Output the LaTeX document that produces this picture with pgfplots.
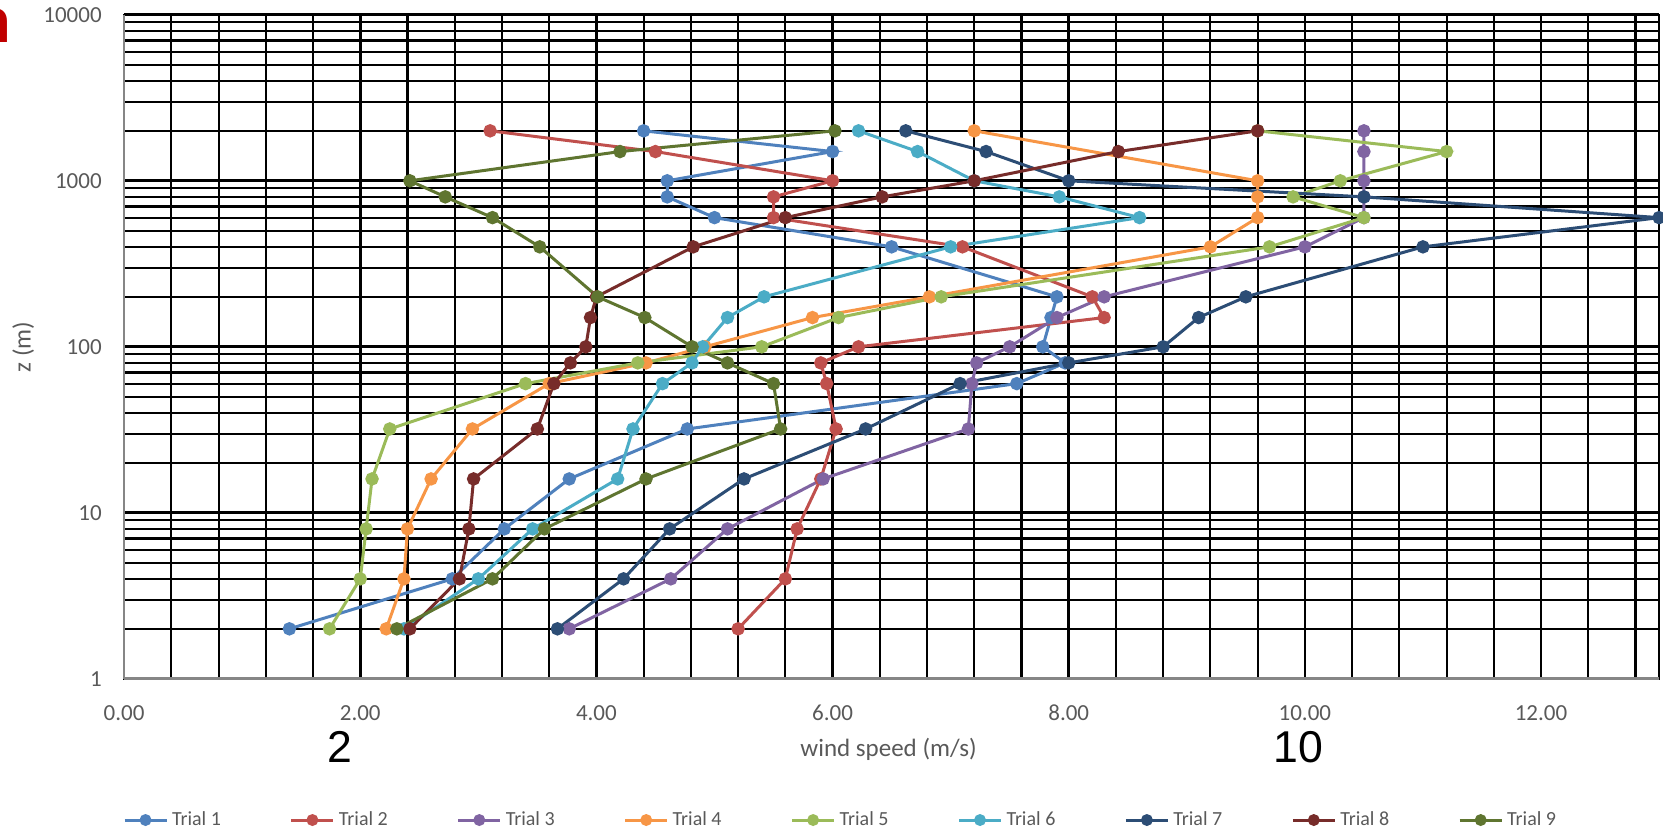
\documentclass[border=0pt]{standalone}
\usepackage{pgfplots}
\pgfplotsset{compat=1.18}
\usepackage{fontspec}
\setmainfont{Carlito}
\newfontfamily\arialfont{Liberation Sans}
\definecolor{cA}{HTML}{4F81BD}
\definecolor{cB}{HTML}{C0504D}
\definecolor{cC}{HTML}{8064A2}
\definecolor{cD}{HTML}{F79646}
\definecolor{cE}{HTML}{9BBB59}
\definecolor{cF}{HTML}{4BACC6}
\definecolor{cG}{HTML}{2C4D75}
\definecolor{cH}{HTML}{772C2A}
\definecolor{cI}{HTML}{5F7530}
\definecolor{axgray}{HTML}{868686}
\definecolor{txtgray}{HTML}{595959}
\definecolor{darkred}{HTML}{C00000}
\begin{document}
\begin{tikzpicture}
\useasboundingbox (-62.05pt,-77.1pt) rectangle (769.45pt,339.4pt);
\begin{axis}[
  at={(0,0)}, anchor=south west,
  scale only axis, width=767.5pt, height=332pt,
  xmin=0, xmax=13, ymode=log, ymin=1, ymax=10000,
  xtick={0,2,4,6,8,10,12},
  xticklabels={0.00,2.00,4.00,6.00,8.00,10.00,12.00},
  minor xtick={0.4,0.8,1.2,1.6,2.4,2.8,3.2,3.6,4.4,4.8,5.2,5.6,6.4,6.8,7.2,7.6,8.4,8.8,9.2,9.6,10.4,10.8,11.2,11.6,12.4,12.8},
  ytick={1,10,100,1000,10000},
  yticklabels={1,10,100,1000,10000},
  grid=both,
  major grid style={black, line width=1.3pt},
  minor grid style={black, line width=1.05pt},
  tick style={draw=none},
  axis line style={black, line width=1.1pt},
  ticklabel style={font=\fontsize{11.5}{13}\selectfont, text=txtgray},
  xticklabel style={anchor=center, yshift=-17pt, inner sep=0pt},
  yticklabel style={anchor=east, xshift=-11pt, inner sep=0pt},
  xlabel={wind speed (m/s)},
  xlabel style={at={(axis description cs:0.498,-0.1069)}, anchor=center, font=\fontsize{12.5}{14}\selectfont, text=txtgray},
  ylabel={z (m)},
  ylabel style={at={(axis description cs:-0.0658,0.5)}, anchor=center, font=\fontsize{12.5}{14}\selectfont, text=txtgray},
  clip=false,
  every axis plot/.append style={line width=1.5pt, mark=*, mark size=2.6pt, mark options={solid}},
  legend columns=9,
  legend cell align=left,
  legend image code/.code={\draw[mark repeat=2,mark phase=2,#1,mark size=2.2pt] plot coordinates {(0pt,0pt) (10.5pt,0pt) (21pt,0pt)};},
  legend style={at={(0.4674,-0.2127)}, anchor=center, draw=none, fill=none,
    font=\fontsize{10}{12}\selectfont, text=txtgray,
    /tikz/every even column/.append style={column sep=32.5pt}},
]
\draw[axgray, line width=1.3pt] (rel axis cs:0,0) -- (rel axis cs:0,1);
\draw[axgray, line width=1.3pt] (rel axis cs:0,0) -- (rel axis cs:1,0);

\addplot[cA] coordinates {(4.4,2000)(6.0,1500)(4.6,1000)(4.6,800)(5.0,600)(6.5,400)(7.9,200)(7.85,150)(7.78,100)(7.97,80)(7.56,60)(4.77,32)(3.77,16)(3.22,8)(2.78,4)(1.40,2)};
\addlegendentry{Trial 1}
\addplot[cB] coordinates {(3.1,2000)(4.5,1500)(6.0,1000)(5.5,800)(5.5,600)(7.1,400)(8.2,200)(8.3,150)(6.22,100)(5.9,80)(5.95,60)(6.03,32)(5.9,16)(5.7,8)(5.6,4)(5.2,2)};
\addlegendentry{Trial 2}
\addplot[cC] coordinates {(10.5,2000)(10.5,1500)(10.5,1000)(10.5,800)(10.5,600)(10.0,400)(8.3,200)(7.9,150)(7.5,100)(7.22,80)(7.18,60)(7.15,32)(5.92,16)(5.11,8)(4.63,4)(3.77,2)};
\addlegendentry{Trial 3}
\addplot[cD] coordinates {(7.2,2000)(9.6,1000)(9.6,800)(9.6,600)(9.2,400)(6.82,200)(5.83,150)(4.92,100)(4.42,80)(3.6,60)(2.95,32)(2.6,16)(2.4,8)(2.37,4)(2.22,2)};
\addlegendentry{Trial 4}
\addplot[cE] coordinates {(9.6,2000)(11.2,1500)(10.3,1000)(9.9,800)(10.5,600)(9.7,400)(6.92,200)(6.05,150)(5.4,100)(4.35,80)(3.4,60)(2.25,32)(2.1,16)(2.05,8)(2.0,4)(1.74,2)};
\addlegendentry{Trial 5}
\addplot[cF] coordinates {(6.22,2000)(6.72,1500)(7.2,1000)(7.92,800)(8.6,600)(7.0,400)(5.42,200)(5.11,150)(4.9,100)(4.81,80)(4.56,60)(4.31,32)(4.18,16)(3.46,8)(3.0,4)(2.37,2)};
\addlegendentry{Trial 6}
\addplot[cG] coordinates {(6.62,2000)(7.3,1500)(8.0,1000)(10.5,800)(13.0,600)(11.0,400)(9.5,200)(9.1,150)(8.8,100)(8.0,80)(7.08,60)(6.28,32)(5.25,16)(4.62,8)(4.23,4)(3.67,2)};
\addlegendentry{Trial 7}
\addplot[cH] coordinates {(9.6,2000)(8.42,1500)(7.2,1000)(6.42,800)(5.6,600)(4.82,400)(4.0,200)(3.95,150)(3.91,100)(3.78,80)(3.64,60)(3.5,32)(2.96,16)(2.92,8)(2.84,4)(2.42,2)};
\addlegendentry{Trial 8}
\addplot[cI] coordinates {(6.02,2000)(4.2,1500)(2.42,1000)(2.72,800)(3.12,600)(3.52,400)(4.01,200)(4.41,150)(4.81,100)(5.11,80)(5.5,60)(5.56,32)(4.42,16)(3.56,8)(3.12,4)(2.31,2)};
\addlegendentry{Trial 9}

\node[anchor=base east, text=darkred, inner sep=0pt, font=\fontsize{34}{34}\selectfont\bfseries] at (axis description cs:-0.0735,0.959) {n};
\node[font=\arialfont\fontsize{22.3}{22.3}\selectfont, inner sep=0pt] at (axis description cs:0.1403,-0.1023) {2};
\node[font=\arialfont\fontsize{22.3}{22.3}\selectfont, inner sep=0pt] at (axis description cs:0.7648,-0.1023) {10};
\end{axis}
\end{tikzpicture}
\end{document}
